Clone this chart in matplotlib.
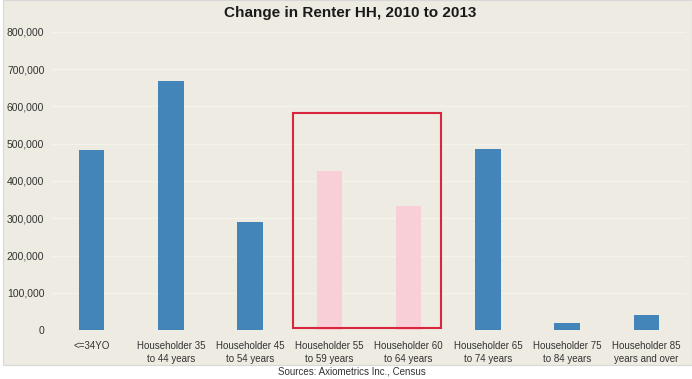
import numpy as np
import matplotlib.pyplot as plt
from matplotlib.patches import Rectangle

categories = ['<=34YO', 'Householder 35\nto 44 years', 'Householder 45\nto 54 years',
              'Householder 55\nto 59 years', 'Householder 60\nto 64 years',
              'Householder 65\nto 74 years', 'Householder 75\nto 84 years',
              'Householder 85\nyears and over']
values = [483000, 668000, 291000, 428000, 332000, 487000, 20000, 40000]
highlight = [False, False, False, True, True, False, False, False]
yticks = [0, 100000, 200000, 300000, 400000, 500000, 600000, 700000, 800000]

plt.rcParams['font.family'] = ['Liberation Sans', 'DejaVu Sans']

bg = '#EEEBE2'
blue = '#4385B9'
pink = '#F8CFD7'

fig = plt.figure(figsize=(6.92, 3.79), dpi=100)
fig.patch.set_facecolor('white')
# beige chart area, white strip at the bottom for the source line
fig.patches.append(Rectangle((0.005, 1 - 365 / 379), 0.995, 365 / 379,
                             transform=fig.transFigure, facecolor=bg,
                             edgecolor='#D8D8D8', linewidth=0.8, zorder=-5))

ax = fig.add_axes([52 / 692, 1 - 330 / 379, 634 / 692, (330 - 32) / 379])
ax.patch.set_visible(False)

x = np.arange(len(categories))
colors = [pink if h else blue for h in highlight]
ax.bar(x, values, width=0.32, color=colors, zorder=3)

ax.set_xlim(-0.5, len(categories) - 0.5)
ax.set_ylim(0, 800000)
ax.set_yticks(yticks)
ax.set_yticklabels(['{:,}'.format(v) for v in yticks])
ax.set_xticks(x)
ax.set_xticklabels(categories, linespacing=1.4)
ax.tick_params(axis='both', length=0, labelcolor='#333333')
ax.tick_params(axis='y', pad=5.5, labelsize=7.5)
ax.tick_params(axis='x', pad=8, labelsize=7)

ax.grid(axis='y', color='#F4F2EC', linewidth=1.0, zorder=0)
for s in ax.spines.values():
    s.set_visible(False)

# red box around the 55-64 groups
ax.add_patch(Rectangle((2.54, 6000), 1.87, 577000, fill=False,
                       edgecolor='#D7263D', linewidth=1.5, zorder=4, clip_on=False))

fig.text(350 / 692, 1 - 13 / 379, 'Change in Renter HH, 2010 to 2013', ha='center', va='center',
         fontsize=11, fontweight='bold', color='#1A1A1A')
fig.text(352 / 692, 1 - 372 / 379, 'Sources: Axiometrics Inc., Census', ha='center', va='center',
         fontsize=7, color='#333333')

fig.savefig('out.png', dpi=100, facecolor=fig.get_facecolor())
